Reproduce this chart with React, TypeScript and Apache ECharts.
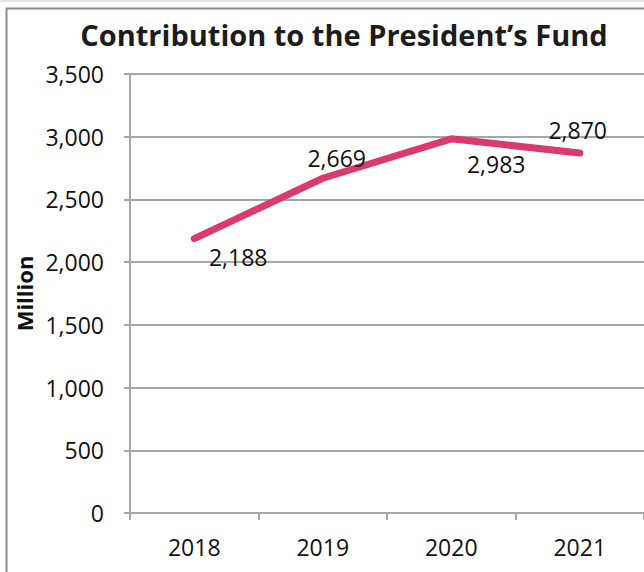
import React, { useEffect, useRef } from "react";
import * as echarts from "echarts";

const categories = ["2018", "2019", "2020", "2021"];
const values = [2188, 2669, 2983, 2870];
const labelPositions: [number, number][] = [
  [44, 18],
  [14, -20],
  [45, 25],
  [-2, -23],
];

export default function App() {
  const ref = useRef<HTMLDivElement>(null);
  useEffect(() => {
    document.body.style.margin = "0";
    const chart = echarts.init(ref.current!, null, { renderer: "svg" });
    const font = "'Open Sans', 'Noto Sans', sans-serif";
    chart.setOption({
      animation: false,
      backgroundColor: "#fff",
      title: {
        text: "Contribution to the President\u2019s Fund",
        left: 339,
        top: 15,
        textAlign: "center",
        textStyle: { fontFamily: font, fontWeight: "bold", fontSize: 29, color: "#1c1c1c" },
      },
      graphic: [
        { type: "rect", shape: { x: 0, y: 0, width: 644, height: 2 }, style: { fill: "#e3e3e3" } },
        {
          type: "rect",
          shape: { x: 6.5, y: 8.5, width: 700, height: 700 },
          style: { fill: "none", stroke: "#8c8c8c", lineWidth: 2 },
          silent: true,
        },
      ],
      grid: { left: 130, right: 0, top: 74, bottom: 59, containLabel: false },
      xAxis: {
        type: "category",
        data: categories,
        boundaryGap: true,
        axisLine: { lineStyle: { color: "#a6a6a6", width: 2 } },
        axisTick: { show: true, length: 7, lineStyle: { color: "#a6a6a6", width: 2 } },
        axisLabel: { fontFamily: font, fontSize: 23, color: "#111", margin: 22 },
      },
      yAxis: {
        type: "value",
        min: 0,
        max: 3500,
        interval: 500,
        name: "Million",
        nameLocation: "middle",
        nameGap: 90,
        nameTextStyle: { fontFamily: font, fontWeight: "bold", fontSize: 22, color: "#111" },
        axisLine: { show: true, lineStyle: { color: "#a6a6a6", width: 2 } },
        axisTick: { show: true, length: 6, lineStyle: { color: "#a6a6a6", width: 2 } },
        splitLine: { lineStyle: { color: "#a6a6a6", width: 2 } },
        axisLabel: {
          fontFamily: font,
          fontSize: 23,
          color: "#111",
          margin: 26,
          formatter: (v: number) => v.toLocaleString("en-US"),
        },
      },
      series: [
        {
          type: "line",
          data: values.map((v, i) => ({
            value: v,
            label: {
              show: true,
              position: "inside",
              offset: labelPositions[i],
            },
          })),
          symbol: "circle",
          symbolSize: 1,
          showSymbol: true,
          itemStyle: { color: "rgba(0,0,0,0)" },
          lineStyle: { color: "#DB3A6D", width: 7, cap: "round" },
          label: {
            show: true,
            fontFamily: font,
            fontSize: 23,
            color: "#111",
            formatter: (p: any) => Number(p.value).toLocaleString("en-US"),
          },
        },
      ],
    });
    return () => chart.dispose();
  }, []);
  return <div ref={ref} style={{ width: 644, height: 572 }} />;
}
